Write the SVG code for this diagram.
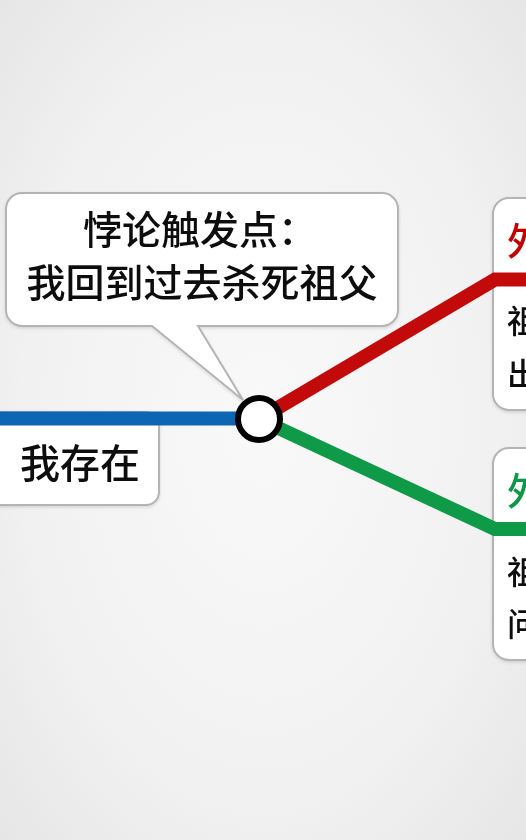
<svg xmlns="http://www.w3.org/2000/svg" width="526" height="840" viewBox="0 0 526 840">
  <defs>
    <radialGradient id="bg" cx="50%" cy="50%" r="75%">
      <stop offset="0" stop-color="#f9f9f9"/>
      <stop offset="0.6" stop-color="#f1f1f1"/>
      <stop offset="1" stop-color="#e4e4e4"/>
    </radialGradient>
    <filter id="sh" x="-10%" y="-10%" width="120%" height="130%">
      <feDropShadow dx="0" dy="1.5" stdDeviation="1.5" flood-color="#000" flood-opacity="0.12"/>
    </filter>
  </defs>
  <style>
    .box { fill: #ffffff; stroke: #b4b4b4; stroke-width: 2; }
    .txt { font-family: "Noto Sans CJK SC", "Noto Sans", sans-serif; font-weight: 500; fill: #111111; }
    .line { fill: none; stroke-width: 14; stroke-linejoin: miter; stroke-linecap: butt; }
  </style>
  <rect x="0" y="0" width="526" height="840" fill="url(#bg)"/>

  <g id="node-trigger" filter="url(#sh)">
    <path class="box" d="M 22,193 H 382 A 16,16 0 0 1 398,209 V 310 A 16,16 0 0 1 382,326 H 198 L 243,400 L 152,326 H 22 A 16,16 0 0 1 6,310 V 209 A 16,16 0 0 1 22,193 Z"/>
    <text class="txt" x="200" y="244" font-size="39" text-anchor="middle">悖论触发点：</text>
    <text class="txt" x="202" y="297" font-size="39" text-anchor="middle">我回到过去杀死祖父</text>
  </g>

  <g id="node-exist" filter="url(#sh)">
    <rect class="box" x="-30" y="412" width="189" height="93" rx="13"/>
    <text class="txt" x="20" y="478" font-size="40">我存在</text>
  </g>

  <g id="node-branch-red" filter="url(#sh)">
    <rect class="box" x="493" y="198" width="220" height="212" rx="16"/>
    <text class="txt" x="507" y="255" font-size="38" style="fill:#c00000">外祖父死亡</text>
    <text class="txt" x="507" y="333" font-size="32">祖父死亡</text>
    <text class="txt" x="507" y="386" font-size="32">出生不可能</text>
  </g>

  <g id="node-branch-green" filter="url(#sh)">
    <rect class="box" x="493" y="448" width="220" height="212" rx="16"/>
    <text class="txt" x="507" y="505" font-size="38" style="fill:#109848">外祖父存活</text>
    <text class="txt" x="507" y="584" font-size="32">祖父存活</text>
    <text class="txt" x="507" y="636" font-size="32">问题依旧</text>
  </g>

  <g id="connectors">
    <path class="line" stroke="#0d66b4" d="M -5,418.5 H 259"/>
    <path class="line" stroke="#c30a0a" d="M 259,419 L 495,279.5 H 540"/>
    <path class="line" stroke="#0f9a48" d="M 259,419 L 495,529 H 540"/>
  </g>

  <g id="node-junction">
    <circle cx="259" cy="419" r="21" fill="#ffffff" stroke="#000000" stroke-width="6"/>
  </g>
</svg>
